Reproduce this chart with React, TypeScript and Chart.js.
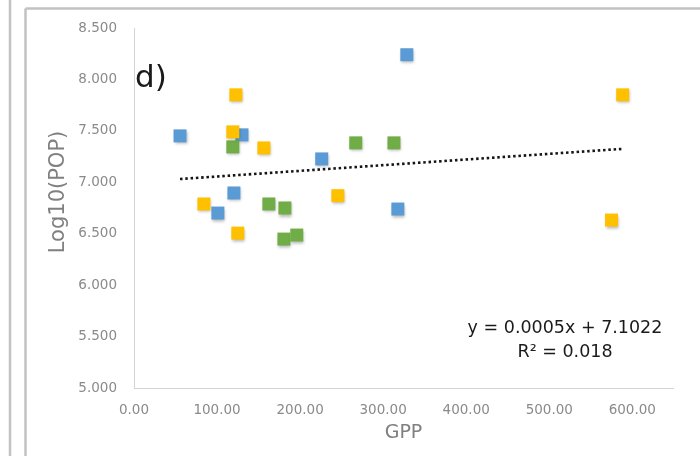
import React, { useEffect, useRef } from 'react';
import { Chart, registerables } from 'chart.js';

Chart.register(...registerables);

// ---- data ----
const blueGPP = [55.4, 130, 226, 120.3, 101, 328.5, 317.7];
const bluePOP = [7.451, 7.461, 7.227, 6.896, 6.701, 8.24, 6.74];
const yellowGPP = [122.7, 119, 156.4, 84.2, 125, 245.5, 588.4, 575];
const yellowPOP = [7.85, 7.49, 7.334, 6.789, 6.506, 6.87, 7.85, 6.633];
const greenGPP = [119, 162.4, 181.7, 180.5, 196, 267, 313];
const greenPOP = [7.344, 6.789, 6.75, 6.448, 6.487, 7.383, 7.383];

const xTickValues = [0, 100, 200, 300, 400, 500, 600];
const yTickValues = [5, 5.5, 6, 6.5, 7, 7.5, 8, 8.5];
const xTitle = 'GPP';
const yTitle = 'Log10(POP)';
const panelLabel = 'd)';
const equationLines = ['y = 0.0005x + 7.1022', 'R\u00B2 = 0.018'];

const BLUE = '#5B9BD5';
const YELLOW = '#FFC000';
const GREEN = '#70AD47';
const FONT = "'DejaVu Sans', sans-serif";

function pts(xs: number[], ys: number[]) {
  return xs.map((x, i) => ({ x, y: ys[i] }));
}

function regression(xs: number[], ys: number[]) {
  const n = xs.length;
  const mx = xs.reduce((a, b) => a + b, 0) / n;
  const my = ys.reduce((a, b) => a + b, 0) / n;
  let sxy = 0;
  let sxx = 0;
  for (let i = 0; i < n; i++) {
    sxy += (xs[i] - mx) * (ys[i] - my);
    sxx += (xs[i] - mx) * (xs[i] - mx);
  }
  const b = sxy / sxx;
  const a = my - b * mx;
  return { a, b };
}

export default function App() {
  const ref = useRef<HTMLCanvasElement | null>(null);

  useEffect(() => {
    if (!ref.current) return;
    const allX = [...blueGPP, ...yellowGPP, ...greenGPP];
    const allY = [...bluePOP, ...yellowPOP, ...greenPOP];
    const { a, b } = regression(allX, allY);
    const minX = Math.min(...allX);
    const maxX = Math.max(...allX);
    const trend = [
      { x: minX, y: a + b * minX },
      { x: maxX, y: a + b * maxX },
    ];

    const decor = {
      id: 'decor',
      beforeDraw(chart: any) {
        const ctx = chart.ctx;
        ctx.save();
        ctx.strokeStyle = '#c2c2c2';
        ctx.lineWidth = 2.5;
        ctx.beginPath();
        ctx.moveTo(10, 0);
        ctx.lineTo(10, 456);
        ctx.moveTo(25.5, 8.5);
        ctx.lineTo(25.5, 456);
        ctx.moveTo(25.5, 8.5);
        ctx.lineTo(700, 8.5);
        ctx.stroke();
        ctx.restore();
      },
      beforeDatasetDraw(chart: any, args: any) {
        if (args.meta.type === 'scatter') {
          const ctx = chart.ctx;
          ctx.save();
          ctx.shadowColor = 'rgba(0,0,0,0.28)';
          ctx.shadowBlur = 3;
          ctx.shadowOffsetX = 1;
          ctx.shadowOffsetY = 2;
        }
      },
      afterDatasetDraw(chart: any, args: any) {
        if (args.meta.type === 'scatter') {
          chart.ctx.restore();
        }
      },
      afterDraw(chart: any) {
        const ctx = chart.ctx;
        const area = chart.chartArea;
        ctx.save();
        // panel label
        ctx.fillStyle = '#1a1a1a';
        ctx.font = `31px ${FONT}`;
        ctx.textAlign = 'left';
        ctx.textBaseline = 'alphabetic';
        ctx.fillText(panelLabel, area.left + 1, area.top + 59);
        // equation
        ctx.font = `17.5px ${FONT}`;
        ctx.textAlign = 'center';
        ctx.fillText(equationLines[0], area.right - 108, area.bottom - 55);
        ctx.fillText(equationLines[1], area.right - 108, area.bottom - 31);
        // y title
        ctx.fillStyle = '#808080';
        ctx.font = `21px ${FONT}`;
        ctx.translate(59, 192);
        ctx.rotate(-Math.PI / 2);
        ctx.textAlign = 'center';
        ctx.textBaseline = 'middle';
        ctx.fillText(yTitle, 0, 0);
        ctx.restore();
      },
    };

    const chart = new Chart(ref.current, {
      type: 'scatter',
      data: {
        datasets: [
          {
            type: 'line',
            label: 'Trend',
            data: trend,
            borderColor: '#141414',
            borderWidth: 2.6,
            borderDash: [2.5, 2.8],
            pointRadius: 0,
            fill: false,
            order: 0,
          } as any,
          {
            label: 'Yellow',
            data: pts(yellowGPP, yellowPOP),
            backgroundColor: YELLOW,
            borderColor: YELLOW,
            borderWidth: 0,
            pointStyle: 'rect',
            pointRadius: 9.2,
            order: 1,
          },
          {
            label: 'Green',
            data: pts(greenGPP, greenPOP),
            backgroundColor: GREEN,
            borderColor: GREEN,
            borderWidth: 0,
            pointStyle: 'rect',
            pointRadius: 9.2,
            order: 2,
          },
          {
            label: 'Blue',
            data: pts(blueGPP, bluePOP),
            backgroundColor: BLUE,
            borderColor: BLUE,
            borderWidth: 0,
            pointStyle: 'rect',
            pointRadius: 9.2,
            order: 3,
          },
        ],
      },
      options: {
        responsive: false,
        animation: false,
        layout: { padding: { left: 0, top: 28, right: 27, bottom: 0 } },
        plugins: {
          legend: { display: false },
          tooltip: { enabled: false },
          title: { display: false },
        },
        scales: {
          x: {
            type: 'linear',
            min: 0,
            max: 649,
            afterBuildTicks: (scale: any) => {
              scale.ticks = xTickValues.map((v) => ({ value: v }));
            },
            afterFit: (scale: any) => {
              scale.height = 68;
            },
            grid: { display: true, drawOnChartArea: false, drawTicks: false },
            border: { display: true, color: '#d4d4d4', width: 1 },
            ticks: {
              padding: 14,
              color: '#8a8a8a',
              font: { family: FONT, size: 13.5 },
              callback: (v: any) => Number(v).toFixed(2),
            },
            title: {
              display: true,
              text: xTitle,
              color: '#808080',
              font: { family: FONT, size: 19 },
              padding: { top: 0, bottom: 12 },
            },
          },
          y: {
            type: 'linear',
            min: 5,
            max: 8.5,
            afterBuildTicks: (scale: any) => {
              scale.ticks = yTickValues.map((v) => ({ value: v }));
            },
            afterFit: (scale: any) => {
              scale.width = 134;
            },
            grid: { display: true, drawOnChartArea: false, drawTicks: false },
            border: { display: true, color: '#d4d4d4', width: 1 },
            ticks: {
              padding: 17,
              color: '#8a8a8a',
              font: { family: FONT, size: 13.5 },
              callback: (v: any) => Number(v).toFixed(3),
            },
          },
        },
      },
      plugins: [decor],
    });

    return () => chart.destroy();
  }, []);

  return (
    <div style={{ position: 'fixed', left: 0, top: 0, width: 700, height: 456, background: '#fff' }}>
      <canvas ref={ref} width={700} height={456} style={{ display: 'block', width: 700, height: 456 }} />
    </div>
  );
}
